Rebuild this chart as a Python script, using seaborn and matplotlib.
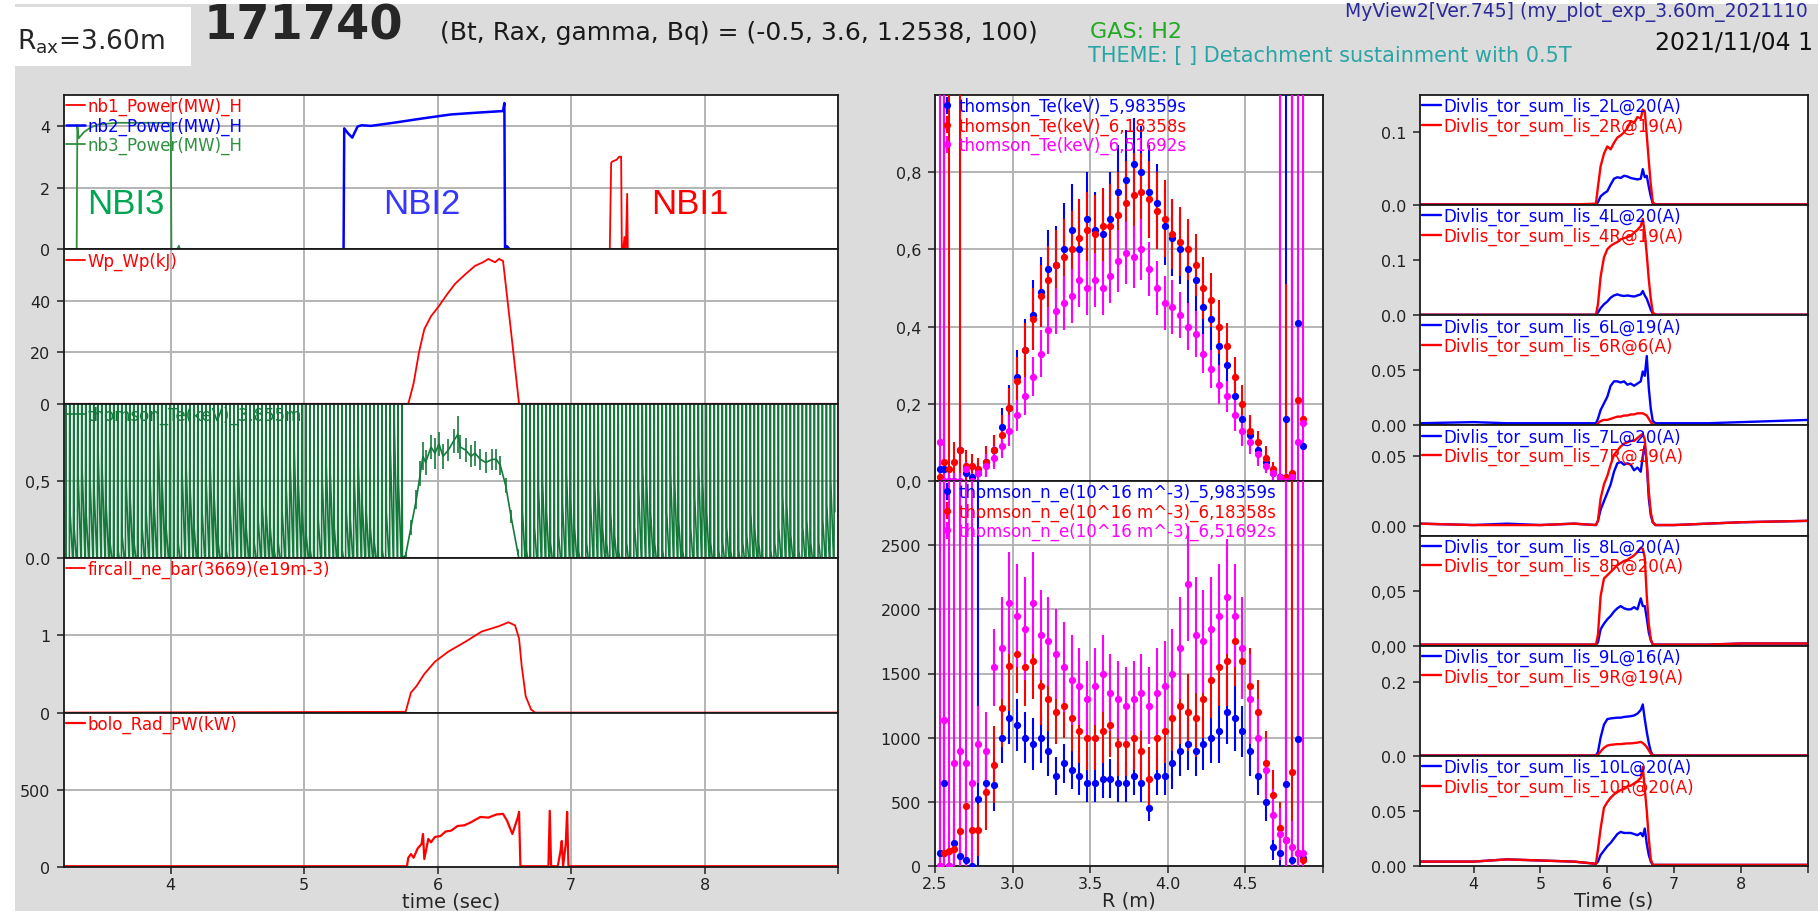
import matplotlib
matplotlib.use("Agg")
import matplotlib.pyplot as plt
from matplotlib.patches import Rectangle
import seaborn as sns

W, H = 1818, 912

# ══════════════════════════════════════════════════════════════
#  HEADER TEXT
# ══════════════════════════════════════════════════════════════
rax_text = r"R$_{\rm ax}$=3.60m"
shot_no = "171740"
shot_params = "(Bt, Rax, gamma, Bq) = (-0.5, 3.6, 1.2538, 100)"
gas_text = "GAS: H2"
theme_text = "THEME: [ ] Detachment sustainment with 0.5T"
viewer_text = "MyView2[Ver.745] (my_plot_exp_3.60m_2021110"
date_text = "2021/11/04 1"

# ══════════════════════════════════════════════════════════════
#  LEFT COLUMN  (time traces, sec)
# ══════════════════════════════════════════════════════════════
nb1_t = [3.2, 7.29, 7.30, 7.31, 7.34, 7.36, 7.375, 7.38, 7.39, 7.40, 7.405, 7.41, 7.42, 7.425, 7.43, 9.0]
nb1_v = [0, 0, 2.8, 2.85, 2.9, 3.0, 3.0, 0, 0, 0.4, 0, 0, 1.8, 0, 0, 0]
nb2_t = [3.2, 5.295, 5.30, 5.33, 5.36, 5.40, 5.43, 5.5, 5.7, 5.9, 6.1, 6.3, 6.49, 6.50, 6.505, 6.515, 6.52, 6.54, 6.55, 9.0]
nb2_v = [0, 0, 3.92, 3.75, 3.62, 3.98, 4.02, 4.0, 4.12, 4.25, 4.37, 4.43, 4.48, 4.74, 0, 0, 0.1, 0, 0, 0]
nb3_t = [3.2, 3.295, 3.30, 3.31, 3.35, 3.40, 3.46, 3.6, 3.8, 4.0, 4.005, 4.05, 4.06, 4.07, 9.0]
nb3_v = [0, 0, 4.0, 3.6, 3.8, 3.95, 4.05, 4.1, 4.1, 4.1, 0, 0, 0.12, 0, 0]

wp_t = [3.2, 5.78, 5.82, 5.86, 5.90, 5.95, 6.01, 6.07, 6.13, 6.20, 6.28, 6.34, 6.38, 6.41, 6.43, 6.46, 6.49, 6.55, 6.61, 6.63, 9.0]
wp_v = [0, 0, 8, 20, 29, 34, 38, 42.5, 46.6, 50, 53.6, 55, 56.3, 55.5, 55, 56.3, 55.5, 28, 0, 0, 0]

# Thomson Te time trace: comb of off-scale samples + plasma window
te_comb_t1 = [3.21, 3.24, 3.27, 3.30, 3.33, 3.36, 3.39, 3.42, 3.45, 3.48,
              3.51, 3.54, 3.57, 3.60, 3.63, 3.66, 3.69, 3.72, 3.75, 3.78,
              3.81, 3.84, 3.87, 3.90, 3.93, 3.96, 3.99, 4.02, 4.05, 4.08,
              4.11, 4.14, 4.17, 4.20, 4.23, 4.26, 4.29, 4.32, 4.35, 4.38,
              4.41, 4.44, 4.47, 4.50, 4.53, 4.56, 4.59, 4.62, 4.65, 4.68,
              4.71, 4.74, 4.77, 4.80, 4.83, 4.86, 4.89, 4.92, 4.95, 4.98,
              5.01, 5.04, 5.07, 5.10, 5.13, 5.16, 5.19, 5.22, 5.25, 5.28,
              5.31, 5.34, 5.37, 5.40, 5.43, 5.46, 5.49, 5.52, 5.55, 5.58,
              5.61, 5.64, 5.67, 5.70, 5.73]
te_comb_low1 = [0.00, 0.30, 0.20, 0.55, 0.60, 0.30, 0.50, 0.45, 0.70, 0.60,
                0.35, 0.10, 0.00, 0.05, 0.15, 0.50, 0.40, 0.10, 0.00, 0.20,
                0.30, 0.50, 0.35, 0.80, 0.50, 0.20, 0.00, 0.00, 0.10, 0.55,
                0.60, 0.45, 0.20, 0.00, 0.30, 0.50, 0.60, 0.40, 0.10, 0.00,
                0.05, 0.30, 0.50, 0.65, 0.40, 0.20, 0.00, 0.10, 0.25, 0.35,
                0.30, 0.20, 0.05, 0.10, 0.30, 0.45, 0.60, 0.70, 0.50, 0.30,
                0.15, 0.05, 0.00, 0.25, 0.50, 0.60, 0.55, 0.20, 0.00, 0.05,
                0.30, 0.25, 0.50, 0.60, 0.35, 0.30, 0.20, 0.10, 0.00, 0.05,
                0.30, 0.70, 0.85, 0.50, 0.00]
te_p_t = [5.76, 5.80, 5.84, 5.87, 5.89, 5.91, 5.95, 5.98, 6.01, 6.04, 6.08, 6.12, 6.15,
          6.17, 6.21, 6.25, 6.28, 6.32, 6.36, 6.41, 6.44, 6.47, 6.51, 6.55, 6.60]
te_p_v = [0.02, 0.20, 0.38, 0.55, 0.66, 0.62, 0.72, 0.68, 0.74, 0.66, 0.70, 0.76, 0.80,
          0.72, 0.70, 0.66, 0.68, 0.64, 0.62, 0.64, 0.64, 0.60, 0.47, 0.27, 0.04]
te_p_err = [0.02, 0.05, 0.06, 0.08, 0.09, 0.08, 0.08, 0.10, 0.08, 0.08, 0.07, 0.08, 0.12,
            0.08, 0.08, 0.07, 0.08, 0.07, 0.07, 0.07, 0.07, 0.06, 0.05, 0.04, 0.02]
te_comb_t2 = [6.63, 6.66, 6.69, 6.72, 6.75, 6.78, 6.81, 6.84, 6.87, 6.90,
              6.93, 6.96, 6.99, 7.02, 7.05, 7.08, 7.11, 7.14, 7.17, 7.20,
              7.23, 7.26, 7.29, 7.32, 7.35, 7.38, 7.41, 7.44, 7.47, 7.50,
              7.53, 7.56, 7.59, 7.62, 7.65, 7.68, 7.71, 7.74, 7.77, 7.80,
              7.83, 7.86, 7.89, 7.92, 7.95, 7.98, 8.01, 8.04, 8.07, 8.10,
              8.13, 8.16, 8.19, 8.22, 8.25, 8.28, 8.31, 8.34, 8.37, 8.40,
              8.43, 8.46, 8.49, 8.52, 8.55, 8.58, 8.61, 8.64, 8.67, 8.70,
              8.73, 8.76, 8.79, 8.82, 8.85, 8.88, 8.91, 8.94, 8.97]
te_comb_low2 = [0.30, 0.05, 0.00, 0.20, 0.45, 0.50, 0.30, 0.10, 0.00, 0.15,
                0.35, 0.55, 0.40, 0.20, 0.05, 0.00, 0.10, 0.35, 0.50, 0.45,
                0.20, 0.10, 0.30, 0.15, 0.05, 0.00, 0.10, 0.00, 0.20, 0.45,
                0.60, 0.50, 0.30, 0.10, 0.00, 0.05, 0.30, 0.55, 0.50, 0.25,
                0.05, 0.00, 0.20, 0.40, 0.60, 0.50, 0.30, 0.10, 0.00, 0.05,
                0.10, 0.20, 0.05, 0.00, 0.05, 0.10, 0.15, 0.30, 0.20, 0.10,
                0.00, 0.00, 0.05, 0.10, 0.20, 0.40, 0.35, 0.15, 0.00, 0.05,
                0.20, 0.25, 0.10, 0.00, 0.10, 0.25, 0.35, 0.50, 0.30]
te_spike_top, te_spike_bottom = 1.3, -0.1

ne_bar_t = [3.2, 5.76, 5.80, 5.84, 5.90, 5.98, 6.08, 6.21, 6.33, 6.46, 6.53, 6.58, 6.61, 6.63, 6.66, 6.70, 6.73, 9.0]
ne_bar_v = [0.0, 0.01, 0.26, 0.34, 0.50, 0.66, 0.79, 0.92, 1.05, 1.12, 1.17, 1.13, 0.96, 0.60, 0.21, 0.04, 0.0, 0.0]

bolo_t = [3.2, 5.77, 5.78, 5.80, 5.82, 5.85, 5.88, 5.89, 5.90, 5.93, 5.95, 5.98, 6.02, 6.06, 6.10,
          6.15, 6.20, 6.25, 6.32, 6.38, 6.44, 6.49, 6.52, 6.56, 6.60, 6.61, 6.62, 6.83, 6.84, 6.85,
          6.86, 6.90, 6.92, 6.93, 6.94, 6.96, 6.97, 6.98, 7.00, 9.0]
bolo_v = [5, 5, 60, 84, 60, 120, 150, 214, 52, 182, 160, 195, 200, 230, 235,
          266, 270, 290, 324, 320, 340, 344, 300, 214, 320, 357, 5, 5, 364, 5,
          5, 5, 100, 169, 5, 150, 357, 5, 5, 5]

# ══════════════════════════════════════════════════════════════
#  MIDDLE COLUMN  (Thomson profiles vs R)
# ══════════════════════════════════════════════════════════════
R_ch = [2.53, 2.56, 2.59, 2.62, 2.66, 2.70, 2.74, 2.78, 2.83, 2.88,
        2.93, 2.98, 3.03, 3.08, 3.13, 3.18, 3.23, 3.28, 3.33, 3.38,
        3.43, 3.48, 3.53, 3.58, 3.63, 3.68, 3.73, 3.78, 3.83, 3.88,
        3.93, 3.98, 4.03, 4.08, 4.13, 4.18, 4.23, 4.28, 4.33, 4.38,
        4.43, 4.48, 4.53, 4.58, 4.63, 4.68, 4.72, 4.76, 4.80, 4.84,
        4.87]
te_blue = [0.03, 0.03, 0.00, 0.00, 0.08, 0.02, 0.01, 0.02, 0.05, 0.08,
           0.14, 0.19, 0.27, 0.34, 0.43, 0.49, 0.55, 0.56, 0.60, 0.65,
           0.60, 0.68, 0.65, 0.64, 0.68, 0.75, 0.78, 0.82, 0.80, 0.75,
           0.72, 0.66, 0.63, 0.60, 0.55, 0.52, 0.45, 0.42, 0.35, 0.30,
           0.22, 0.16, 0.12, 0.08, 0.05, 0.02, 0.01, 0.16, 0.01, 0.41,
           0.09]
te_blue_err = [0.03, 9.0, 0.02, 0.02, 0.12, 0.03, 0.03, 0.03, 0.04, 0.04,
               0.05, 0.06, 0.07, 0.08, 0.09, 0.09, 0.10, 0.10, 0.12, 0.12,
               0.10, 0.12, 0.10, 0.10, 0.12, 0.12, 0.13, 0.12, 0.12, 0.12,
               0.10, 0.10, 0.10, 0.09, 0.09, 0.09, 0.08, 0.08, 0.07, 0.06,
               0.06, 0.05, 0.04, 0.03, 0.03, 0.02, 0.02, 9.0, 9.0, 0.05,
               0.03]
te_red = [0.01, 0.05, 0.03, 0.05, 0.08, 0.04, 0.04, 0.03, 0.05, 0.08,
          0.12, 0.19, 0.26, 0.34, 0.42, 0.48, 0.52, 0.56, 0.58, 0.60,
          0.63, 0.65, 0.64, 0.66, 0.66, 0.69, 0.72, 0.74, 0.75, 0.73,
          0.70, 0.68, 0.64, 0.62, 0.60, 0.56, 0.50, 0.47, 0.40, 0.35,
          0.27, 0.20, 0.13, 0.10, 0.06, 0.03, 0.01, 0.01, 0.02, 0.21,
          0.16]
te_red_err = [0.02, 0.15, 9.0, 0.05, 9.0, 0.04, 0.03, 0.03, 0.04, 0.04,
              0.05, 0.05, 0.06, 0.07, 0.08, 0.08, 0.09, 0.09, 0.10, 0.10,
              0.10, 0.10, 0.10, 0.10, 0.11, 0.11, 0.11, 0.11, 0.10, 0.10,
              0.10, 0.10, 0.09, 0.09, 0.08, 0.08, 0.08, 0.07, 0.07, 0.06,
              0.05, 0.05, 0.04, 0.03, 0.03, 0.02, 9.0, 0.50, 9.0, 0.05,
              0.05]
te_mag = [0.10, 0.00, 0.00, 0.00, 0.00, 0.03, 0.00, 0.02, 0.04, 0.06,
          0.09, 0.13, 0.17, 0.22, 0.27, 0.33, 0.39, 0.44, 0.46, 0.48,
          0.52, 0.50, 0.52, 0.50, 0.53, 0.57, 0.59, 0.58, 0.60, 0.55,
          0.50, 0.46, 0.45, 0.43, 0.40, 0.38, 0.33, 0.29, 0.25, 0.22,
          0.17, 0.13, 0.10, 0.07, 0.04, 0.02, 0.01, 0.00, 0.01, 0.10,
          0.15]
te_mag_err = [9.0, 9.0, 0.02, 0.02, 0.02, 0.02, 0.02, 0.02, 0.03, 0.03,
              0.03, 0.04, 0.04, 0.05, 0.05, 0.06, 0.06, 0.06, 0.07, 0.07,
              0.07, 0.07, 0.07, 0.07, 0.07, 0.08, 0.08, 0.08, 0.08, 0.07,
              0.07, 0.07, 0.07, 0.06, 0.06, 0.06, 0.05, 0.05, 0.05, 0.04,
              0.04, 0.04, 0.03, 0.03, 0.02, 0.02, 9.0, 0.02, 9.0, 9.0,
              9.0]

ne_blue = [100, 650, 0, 180, 80, 50, 0, 520, 650, 630,
           1000, 1150, 1100, 1000, 950, 1000, 900, 700, 800, 750,
           700, 650, 650, 680, 680, 650, 650, 700, 650, 450,
           700, 700, 800, 900, 950, 900, 950, 1000, 1050, 1200,
           1150, 1050, 900, 700, 500, 150, 100, 640, 50, 990,
           60]
ne_blue_err = [400, 5000, 100, 200, 100, 100, 100, 5000, 200, 200,
               200, 200, 200, 200, 200, 200, 200, 150, 150, 150,
               150, 150, 150, 150, 150, 150, 150, 150, 150, 100,
               150, 150, 200, 200, 200, 200, 200, 200, 250, 250,
               250, 200, 200, 150, 150, 100, 100, 5000, 100, 5000,
               100]
ne_red = [0, 100, 120, 130, 270, 470, 280, 280, 580, 790,
          1230, 1560, 1650, 1550, 1600, 1400, 1300, 1200, 1250, 1150,
          1050, 1000, 1000, 1050, 1100, 950, 950, 1000, 900, 680,
          1000, 1050, 1150, 1250, 1200, 1150, 1300, 1450, 1550, 1600,
          1750, 1600, 1400, 1200, 800, 550, 300, 200, 730, 100,
          50]
ne_red_err = [100, 5000, 200, 200, 200, 300, 200, 200, 300, 300,
              300, 350, 300, 300, 300, 300, 250, 250, 250, 250,
              250, 250, 250, 250, 250, 250, 250, 250, 250, 250,
              250, 250, 250, 300, 300, 300, 300, 300, 300, 350,
              350, 300, 300, 250, 250, 200, 200, 200, 5000, 100,
              100]
ne_mag = [0, 1140, 0, 800, 900, 800, 650, 950, 900, 1550,
          1700, 2050, 1950, 1850, 2050, 1800, 1750, 1650, 1550, 1450,
          1400, 1300, 1400, 1500, 1350, 1300, 1250, 1300, 1350, 1250,
          1350, 1400, 1500, 1700, 2200, 1800, 1750, 1850, 1950, 2100,
          1950, 1700, 1300, 1000, 750, 400, 250, 200, 150, 100,
          100]
ne_mag_err = [5000, 5000, 5000, 5000, 5000, 5000, 5000, 300, 300, 300,
              400, 400, 400, 400, 400, 350, 350, 350, 350, 350,
              300, 300, 300, 300, 300, 300, 300, 300, 300, 300,
              350, 350, 350, 400, 450, 450, 400, 400, 400, 450,
              400, 400, 350, 300, 250, 200, 200, 5000, 200, 5000,
              5000]

te_prof_labels = ["thomson_Te(keV)_5,98359s", "thomson_Te(keV)_6,18358s", "thomson_Te(keV)_6,51692s"]
ne_prof_labels = ["thomson_n_e(10^16 m^-3)_5,98359s", "thomson_n_e(10^16 m^-3)_6,18358s",
                  "thomson_n_e(10^16 m^-3)_6,51692s"]

# ══════════════════════════════════════════════════════════════
#  RIGHT COLUMN  (divertor Langmuir probes, A)
# ══════════════════════════════════════════════════════════════
rt = [3.2, 4.0, 4.5, 5.0, 5.5, 5.83, 5.86, 5.90, 5.95, 6.00, 6.05, 6.10, 6.15, 6.20, 6.25, 6.30,
      6.35, 6.40, 6.45, 6.50, 6.53, 6.56, 6.59, 6.62, 6.65, 6.68, 6.72, 7.0, 7.5, 8.0, 9.0]
lis2L = [0.001, 0.001, 0.001, 0.001, 0.001, 0.001, 0.004, 0.012, 0.016, 0.019, 0.028, 0.036, 0.038, 0.037, 0.040, 0.039,
         0.037, 0.036, 0.035, 0.036, 0.049, 0.038, 0.040, 0.025, 0.012, 0.002, 0.001, 0.001, 0.001, 0.001, 0.001]
lis2R = [0.001, 0.001, 0.001, 0.001, 0.001, 0.002, 0.025, 0.053, 0.070, 0.080, 0.076, 0.085, 0.092, 0.095, 0.099, 0.105,
         0.114, 0.112, 0.120, 0.118, 0.130, 0.128, 0.095, 0.060, 0.028, 0.004, 0.001, 0.001, 0.001, 0.001, 0.001]
lis4L = [0.001, 0.001, 0.001, 0.001, 0.001, 0.001, 0.005, 0.013, 0.020, 0.025, 0.032, 0.036, 0.038, 0.036, 0.035, 0.036,
         0.035, 0.034, 0.036, 0.038, 0.044, 0.036, 0.030, 0.020, 0.010, 0.003, 0.001, 0.001, 0.001, 0.001, 0.001]
lis4R = [0.001, 0.001, 0.001, 0.001, 0.001, 0.001, 0.020, 0.070, 0.105, 0.120, 0.126, 0.130, 0.133, 0.138, 0.140, 0.142,
         0.144, 0.150, 0.155, 0.162, 0.175, 0.150, 0.110, 0.065, 0.030, 0.005, 0.001, 0.001, 0.001, 0.001, 0.001]
lis6L = [0.002, 0.003, 0.002, 0.002, 0.002, 0.002, 0.006, 0.014, 0.020, 0.026, 0.036, 0.040, 0.040, 0.039, 0.040, 0.037,
         0.038, 0.036, 0.038, 0.040, 0.049, 0.045, 0.063, 0.034, 0.015, 0.004, 0.002, 0.002, 0.002, 0.003, 0.005]
lis6R = [0.0, 0.0, 0.0, 0.0, 0.0, 0.0, 0.002, 0.004, 0.005, 0.005, 0.006, 0.007, 0.008, 0.008, 0.009, 0.009,
         0.010, 0.010, 0.011, 0.011, 0.011, 0.010, 0.009, 0.006, 0.003, 0.001, 0.0, 0.0, 0.0, 0.0, 0.0]
lis7L = [0.002, 0.001, 0.002, 0.001, 0.002, 0.001, 0.004, 0.012, 0.018, 0.024, 0.030, 0.039, 0.045, 0.046, 0.044, 0.045,
         0.044, 0.040, 0.042, 0.039, 0.050, 0.058, 0.045, 0.020, 0.008, 0.003, 0.001, 0.001, 0.002, 0.003, 0.004]
lis7R = [0.002, 0.001, 0.001, 0.001, 0.002, 0.001, 0.004, 0.020, 0.030, 0.036, 0.044, 0.051, 0.054, 0.057, 0.059, 0.060,
         0.061, 0.061, 0.063, 0.065, 0.066, 0.062, 0.045, 0.025, 0.010, 0.003, 0.001, 0.001, 0.002, 0.003, 0.004]
lis8L = [0.001, 0.001, 0.001, 0.001, 0.001, 0.001, 0.003, 0.015, 0.020, 0.024, 0.027, 0.031, 0.034, 0.036, 0.034, 0.033,
         0.033, 0.035, 0.033, 0.043, 0.036, 0.036, 0.025, 0.012, 0.005, 0.001, 0.001, 0.001, 0.001, 0.002, 0.002]
lis8R = [0.001, 0.001, 0.001, 0.001, 0.001, 0.001, 0.010, 0.045, 0.061, 0.064, 0.067, 0.070, 0.073, 0.075, 0.077, 0.078,
         0.080, 0.082, 0.085, 0.089, 0.088, 0.080, 0.045, 0.020, 0.006, 0.001, 0.001, 0.001, 0.001, 0.002, 0.002]
lis9L = [0.001, 0.001, 0.001, 0.001, 0.001, 0.001, 0.010, 0.050, 0.085, 0.100, 0.102, 0.103, 0.104, 0.104, 0.106, 0.107,
         0.108, 0.110, 0.115, 0.125, 0.140, 0.100, 0.065, 0.035, 0.012, 0.002, 0.001, 0.001, 0.001, 0.001, 0.001]
lis9R = [0.001, 0.001, 0.001, 0.001, 0.001, 0.001, 0.003, 0.012, 0.022, 0.028, 0.030, 0.031, 0.032, 0.032, 0.033, 0.034,
         0.034, 0.035, 0.036, 0.038, 0.035, 0.030, 0.024, 0.015, 0.006, 0.001, 0.001, 0.001, 0.001, 0.001, 0.001]
lis10L = [0.004, 0.004, 0.006, 0.005, 0.004, 0.002, 0.004, 0.010, 0.014, 0.018, 0.021, 0.025, 0.029, 0.031, 0.030, 0.030,
          0.030, 0.029, 0.028, 0.030, 0.027, 0.034, 0.020, 0.010, 0.004, 0.001, 0.001, 0.001, 0.001, 0.001, 0.001]
lis10R = [0.004, 0.004, 0.006, 0.005, 0.004, 0.002, 0.015, 0.034, 0.053, 0.058, 0.062, 0.065, 0.067, 0.069, 0.070, 0.072,
          0.073, 0.075, 0.077, 0.080, 0.090, 0.070, 0.050, 0.025, 0.006, 0.001, 0.001, 0.001, 0.001, 0.001, 0.001]

lis_pairs = [("2L@20", lis2L, "2R@19", lis2R), ("4L@20", lis4L, "4R@19", lis4R),
             ("6L@19", lis6L, "6R@6", lis6R), ("7L@20", lis7L, "7R@19", lis7R),
             ("8L@20", lis8L, "8R@20", lis8R), ("9L@16", lis9L, "9R@19", lis9R),
             ("10L@20", lis10L, "10R@20", lis10R)]
lis_ylim = [(0, 0.15), (0, 0.2), (0, 0.1), (-0.0065, 0.072), (0, 0.1), (0, 0.3), (0, 0.1)]
lis_yticks = [[0, 0.1], [0, 0.1], [0, 0.05], [0, 0.05], [0, 0.05], [0, 0.2], [0, 0.05]]
lis_ylabels = [["0.0", "0.1"], ["0.0", "0.1"], ["0.00", "0.05"], ["0.00", "0.05"],
               ["0,00", "0,05"], ["0.0", "0.2"], ["0.00", "0.05"]]

# ══════════════════════════════════════════════════════════════
#  STYLE
# ══════════════════════════════════════════════════════════════
RED, BLUE, MAG = "#ff0000", "#0000ff", "#ff00ff"
NB3_GREEN, TE_GREEN = "#2f8f3f", "#147a3c"

sns.set_style("white")
plt.rcParams.update({
    "font.family": ["DejaVu Sans"],
    "font.size": 11.5,
    "axes.linewidth": 1.3,
    "axes.edgecolor": "#1a1a1a",
    "xtick.bottom": True, "ytick.left": True,
    "xtick.major.size": 5, "ytick.major.size": 5,
    "xtick.major.width": 1.1, "ytick.major.width": 1.1,
    "xtick.major.pad": 2, "ytick.major.pad": 5,
    "xtick.color": "#222222", "ytick.color": "#222222",
    "grid.color": "#b4b4b4", "grid.linewidth": 1.4,
    "mathtext.fontset": "dejavusans",
})

fig = plt.figure(figsize=(W / 100, H / 100), dpi=100, facecolor="white")
fig.add_artist(Rectangle((15 / W, 0), 1 - 15 / W, 1 - 5 / H, transform=fig.transFigure,
                         facecolor="#dcdcdc", edgecolor="none", zorder=-10))
fig.add_artist(Rectangle((13 / W, 1 - 67 / H), 178 / W, 59 / H, transform=fig.transFigure,
                         facecolor="white", edgecolor="none", zorder=-5))


def px_axes(x0, y0, x1, y1):
    return fig.add_axes([x0 / W, 1 - y1 / H, (x1 - x0) / W, (y1 - y0) / H])


def trace(ax, t, v, color, label, lw=1.3, z=2):
    n = min(len(t), len(v))
    sns.lineplot(x=list(t[:n]), y=list(v[:n]), color=color, label=label, lw=lw,
                 estimator=None, sort=False, ax=ax, zorder=z)


def put_legend(ax, colors, z=5):
    handles, labels = ax.get_legend_handles_labels()
    leg = ax.legend(handles, labels, loc="upper left", bbox_to_anchor=(0, 1), borderaxespad=0,
                    borderpad=0.12, frameon=False, fontsize=12, handlelength=1.15,
                    handletextpad=0.15, labelspacing=0.08)
    for txt, c in zip(leg.get_texts(), colors):
        txt.set_color(c)
    leg.set_zorder(z)


def frame(ax, xlim, ylim, yticks, ylabels, xticks, xlabels, bottom, grid=True):
    ax.set_facecolor("white")
    ax.set_xlim(xlim)
    ax.set_ylim(ylim)
    ax.set_yticks(yticks)
    ax.set_yticklabels(ylabels)
    ax.set_xticks(xticks)
    if bottom:
        ax.set_xticklabels(xlabels)
    else:
        ax.set_xticklabels([])
        ax.tick_params(axis="x", length=0)
    ax.set_xlabel("")
    ax.set_ylabel("")
    ax.set_axisbelow(True)
    if grid:
        ax.grid(True)
    for s in ax.spines.values():
        s.set_visible(True)


TX = [4, 5, 6, 7, 8, 9]
TXL = ["4", "5", "6", "7", "8", ""]

# ── left column ───────────────────────────────────────────────
row_h = (868 - 96) / 5
lax = [px_axes(64, 96 + row_h * i, 838, 96 + row_h * (i + 1)) for i in range(5)]

ax = lax[0]
trace(ax, nb1_t, nb1_v, RED, "nb1_Power(MW)_H")
trace(ax, nb2_t, nb2_v, BLUE, "nb2_Power(MW)_H", lw=1.8)
trace(ax, nb3_t, nb3_v, NB3_GREEN, "nb3_Power(MW)_H")
put_legend(ax, [RED, BLUE, NB3_GREEN])
frame(ax, (3.2, 9.0), (0, 5), [0, 2, 4], ["0", "2", "4"], TX, TXL, False)
nbi_font = ["Liberation Sans", "DejaVu Sans"]
ax.text(3.37, 1.5, "NBI3", color="#00a651", fontsize=25, va="center", family=nbi_font)
ax.text(5.59, 1.5, "NBI2", color="#3636ff", fontsize=25, va="center", family=nbi_font)
ax.text(7.60, 1.5, "NBI1", color=RED, fontsize=25, va="center", family=nbi_font)

ax = lax[1]
trace(ax, wp_t, wp_v, RED, "Wp_Wp(kJ)")
put_legend(ax, [RED])
frame(ax, (3.2, 9.0), (0, 60), [0, 20, 40], ["0", "20", "40"], TX, TXL, False)

# each invalid sample shoots off the top of the panel and drops back to the next valid value
ax = lax[2]
te_x, te_y = [], []
for t, low in zip(te_comb_t1, te_comb_low1):
    te_x += [t, t + 0.003, t + 0.006]
    te_y += [te_spike_bottom, te_spike_top, low]
te_x += te_p_t
te_y += te_p_v
for t, low in zip(te_comb_t2, te_comb_low2):
    te_x += [t, t + 0.003, t + 0.006]
    te_y += [te_spike_bottom, te_spike_top, low]
trace(ax, te_x, te_y, TE_GREEN, "thomson_Te(keV)_3.855m", lw=1.2)
ax.errorbar(te_p_t, te_p_v, yerr=te_p_err, fmt="none", ecolor=TE_GREEN, elinewidth=1.2, zorder=2)
put_legend(ax, [TE_GREEN], z=1)
frame(ax, (3.2, 9.0), (0, 1), [0, 0.5], ["0.0", "0,5"], TX, TXL, False)

ax = lax[3]
trace(ax, ne_bar_t, ne_bar_v, RED, "fircall_ne_bar(3669)(e19m-3)")
put_legend(ax, [RED])
frame(ax, (3.2, 9.0), (0, 2), [0, 1], ["0", "1"], TX, TXL, False)

ax = lax[4]
trace(ax, bolo_t, bolo_v, RED, "bolo_Rad_PW(kW)", lw=1.6)
put_legend(ax, [RED])
frame(ax, (3.2, 9.0), (0, 1000), [0, 500], ["0", "500"], TX, TXL, True)
ax.set_xlabel("time (sec)", fontsize=14, labelpad=0)

# ── middle column ─────────────────────────────────────────────
RX = [2.5, 3.0, 3.5, 4.0, 4.5, 5.0]
RXL = ["2.5", "3.0", "3.5", "4.0", "4.5", ""]
max_te = px_axes(935, 96, 1323, 482)
max_ne = px_axes(935, 482, 1323, 867)

for ax, series, labels in [
    (max_te, [(te_blue, te_blue_err, BLUE), (te_red, te_red_err, RED), (te_mag, te_mag_err, MAG)], te_prof_labels),
    (max_ne, [(ne_blue, ne_blue_err, BLUE), (ne_red, ne_red_err, RED), (ne_mag, ne_mag_err, MAG)], ne_prof_labels),
]:
    for (vals, errs, c), lab in zip(series, labels):
        ax.errorbar(R_ch, vals, yerr=errs, fmt="o", ms=4.2, color=c, ecolor=c,
                    elinewidth=1.5, capsize=0, label=lab, zorder=3)
    put_legend(ax, [BLUE, RED, MAG])

frame(max_te, (2.5, 5.0), (0, 1.0), [0, 0.2, 0.4, 0.6, 0.8], ["0,0", "0,2", "0,4", "0,6", "0,8"],
      RX, RXL, False)
frame(max_ne, (2.5, 5.0), (0, 3000), [0, 500, 1000, 1500, 2000, 2500],
      ["0", "500", "1000", "1500", "2000", "2500"], RX, RXL, True)
max_ne.set_xlabel("R (m)", fontsize=14, labelpad=0)

# ── right column ──────────────────────────────────────────────
rrow_h = (867 - 96) / 7
for i, (lname, lvals, rname, rvals) in enumerate(lis_pairs):
    ax = px_axes(1420, 96 + rrow_h * i, 1808, 96 + rrow_h * (i + 1))
    trace(ax, rt, lvals, BLUE, "Divlis_tor_sum_lis_" + lname + "(A)", lw=1.7)
    trace(ax, rt, rvals, RED, "Divlis_tor_sum_lis_" + rname + "(A)", lw=1.7)
    put_legend(ax, [BLUE, RED])
    frame(ax, (3.2, 9.0), lis_ylim[i], lis_yticks[i], lis_ylabels[i], TX, TXL, i == 6, grid=False)
    if i == 6:
        ax.set_xlabel("Time (s)", fontsize=14, labelpad=0)

# ── header ────────────────────────────────────────────────────
fig.text(17 / W, 1 - 49 / H, rax_text, fontsize=19, va="baseline")
fig.text(204 / W, 1 - 40 / H, shot_no, fontsize=34.5, fontweight="bold", va="baseline")
fig.text(440 / W, 1 - 40 / H, shot_params, fontsize=18, va="baseline", color="#1a1a1a")
fig.text(1090 / W, 1 - 38 / H, gas_text, fontsize=16, va="baseline", color="#22aa22")
fig.text(1088 / W, 1 - 62 / H, theme_text, fontsize=15, va="baseline", color="#2aa5a5")
fig.text(1345 / W, 1 - 17 / H, viewer_text, fontsize=13.5, va="baseline", color="#2a2a9a")
fig.text(1655 / W, 1 - 49 / H, date_text, fontsize=17, va="baseline", color="#111111")

fig.savefig("out.png", dpi=100, facecolor=fig.get_facecolor())
